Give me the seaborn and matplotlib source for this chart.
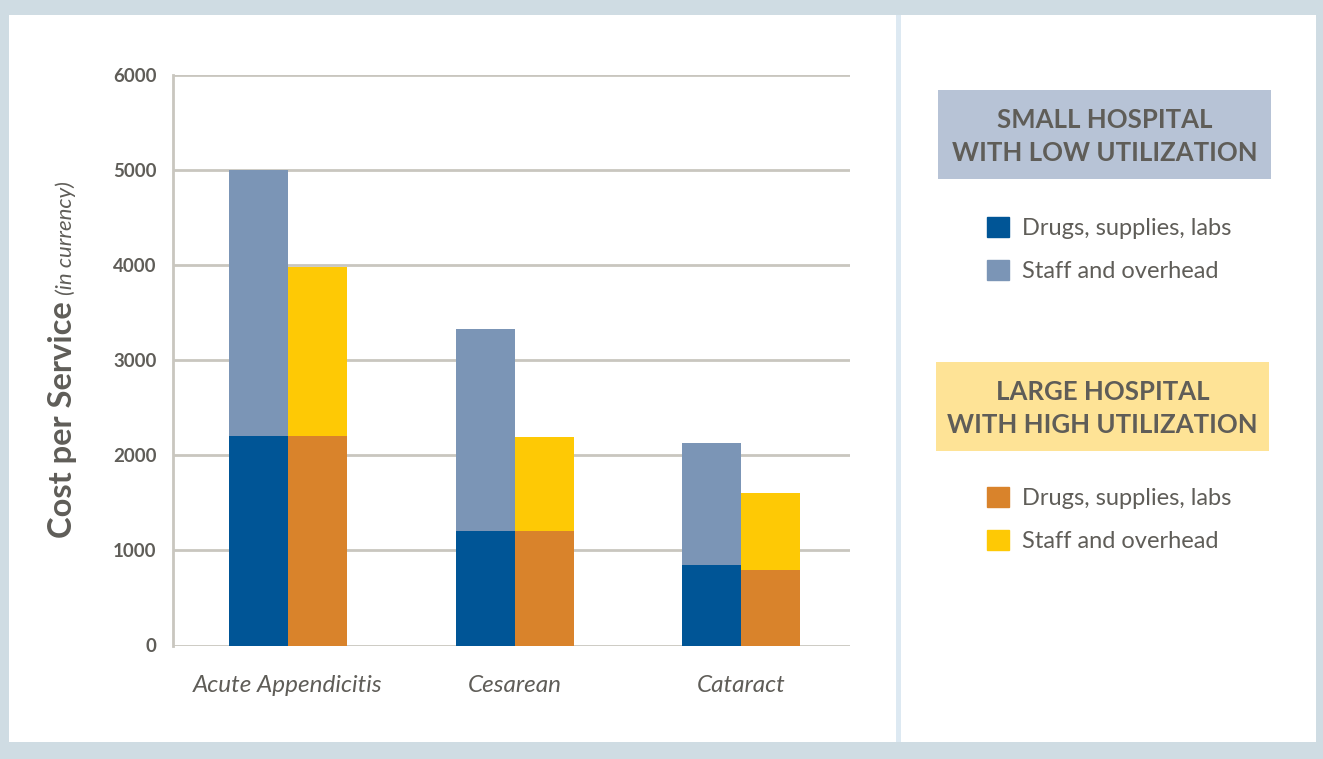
import pandas as pd
import seaborn as sns
import matplotlib.pyplot as plt
from matplotlib.patches import Rectangle, Patch

# values
procedures = ["Acute Appendicitis", "Cesarean", "Cataract"]
small_drugs = [2200, 1200, 850]
small_staff = [2800, 2130, 1280]
large_drugs = [2200, 1200, 790]
large_staff = [1780, 990, 810]
hospitals = ["Small", "Large"]
y_ticks = [0, 1000, 2000, 3000, 4000, 5000, 6000]

c_small_drugs = "#005596"
c_small_staff = "#7b95b6"
c_large_drugs = "#d9832b"
c_large_staff = "#fec905"
grey_text = "#5f5d58"
grid_col = "#c9c6bf"

sns.set_style("white")
plt.rcParams["font.family"] = ["Lato", "DejaVu Sans"]

rows = []
for i, p in enumerate(procedures):
    rows.append({"procedure": p, "hospital": "Small", "drugs": small_drugs[i],
                 "total": small_drugs[i] + small_staff[i]})
    rows.append({"procedure": p, "hospital": "Large", "drugs": large_drugs[i],
                 "total": large_drugs[i] + large_staff[i]})
df = pd.DataFrame(rows)

W, H = 1323, 759
fig = plt.figure(figsize=(W / 100, H / 100), dpi=100, facecolor="#cfdce3")

def px_rect(x0, y0, x1, y1, color, z=-1):
    # rectangle given in image pixels (top-left origin)
    fig.patches.append(Rectangle((x0 / W, 1 - y1 / H), (x1 - x0) / W, (y1 - y0) / H,
                                 transform=fig.transFigure, facecolor=color,
                                 edgecolor="none", zorder=z))

# white panels and divider
px_rect(9, 15, 896, 742, "white")
px_rect(896, 15, 901, 742, "#dde9f2")
px_rect(901, 15, 1316, 742, "white")

ax = fig.add_axes([173 / W, 1 - 645.5 / H, (850 - 173) / W, (645.5 - 75) / H])
ax.patch.set_alpha(0)

sns.barplot(data=df, x="procedure", y="total", hue="hospital", hue_order=hospitals,
            palette={"Small": c_small_staff, "Large": c_large_staff},
            width=0.52, gap=0, saturation=1, linewidth=0, legend=False, ax=ax)
sns.barplot(data=df, x="procedure", y="drugs", hue="hospital", hue_order=hospitals,
            palette={"Small": c_small_drugs, "Large": c_large_drugs},
            width=0.52, gap=0, saturation=1, linewidth=0, legend=False, ax=ax)

ax.set_ylim(0, 6000)
ax.set_xlim(-0.508, 2.48)
ax.set_yticks(y_ticks)
ax.set_axisbelow(True)
ax.yaxis.grid(True, color=grid_col, linewidth=2)
for s in ["top", "right", "bottom"]:
    ax.spines[s].set_visible(False)
ax.spines["left"].set_color(grid_col)
ax.spines["left"].set_linewidth(2)
ax.tick_params(axis="y", length=3, width=2, color=grid_col, pad=9,
               labelsize=13.5, labelcolor=grey_text)
ax.tick_params(axis="x", length=0, pad=21, labelsize=17.5, labelcolor=grey_text)
for lab in ax.get_yticklabels():
    lab.set_fontweight("bold")
for lab in ax.get_xticklabels():
    lab.set_fontstyle("italic")
ax.set_xlabel("")
ax.set_ylabel("")

# y axis title: bold part + italic part
t1 = fig.text(72 / W, 1 - 538 / H, "Cost per Service", rotation=90,
              rotation_mode="anchor", ha="left", va="baseline",
              fontsize=23.5, fontweight="bold", color=grey_text)
fig.canvas.draw()
bb = t1.get_window_extent(fig.canvas.get_renderer())
fig.text(72 / W, (bb.y1 + 6) / H, "(in currency)", rotation=90,
         rotation_mode="anchor", ha="left", va="baseline",
         fontsize=16, fontstyle="italic", color=grey_text)

# legend headers
px_rect(938, 90, 1271, 179, "#b7c3d6", z=1)
fig.text(1104.5 / W, 1 - 136.5 / H, "SMALL HOSPITAL\nWITH LOW UTILIZATION", ha="center",
         va="center", fontsize=18.5, fontweight="bold", color=grey_text,
         linespacing=1.45, zorder=2)
px_rect(936, 362, 1269, 451, "#fee396", z=1)
fig.text(1102.5 / W, 1 - 408.5 / H, "LARGE HOSPITAL\nWITH HIGH UTILIZATION", ha="center",
         va="center", fontsize=18.5, fontweight="bold", color=grey_text,
         linespacing=1.45, zorder=2)

labels = ["Drugs, supplies, labs", "Staff and overhead"]
leg_kw = dict(frameon=False, loc="upper left", fontsize=17, labelcolor=grey_text,
              handlelength=0.93, handleheight=0.93, handletextpad=0.55,
              labelspacing=0.89, borderpad=0, borderaxespad=0)
fig.legend(handles=[Patch(color=c_small_drugs, label=labels[0]),
                    Patch(color=c_small_staff, label=labels[1])],
           bbox_to_anchor=(987 / W, 1 - 217 / H), **leg_kw)
fig.legend(handles=[Patch(color=c_large_drugs, label=labels[0]),
                    Patch(color=c_large_staff, label=labels[1])],
           bbox_to_anchor=(987 / W, 1 - 487 / H), **leg_kw)

fig.savefig("out.png", dpi=100, facecolor=fig.get_facecolor())
